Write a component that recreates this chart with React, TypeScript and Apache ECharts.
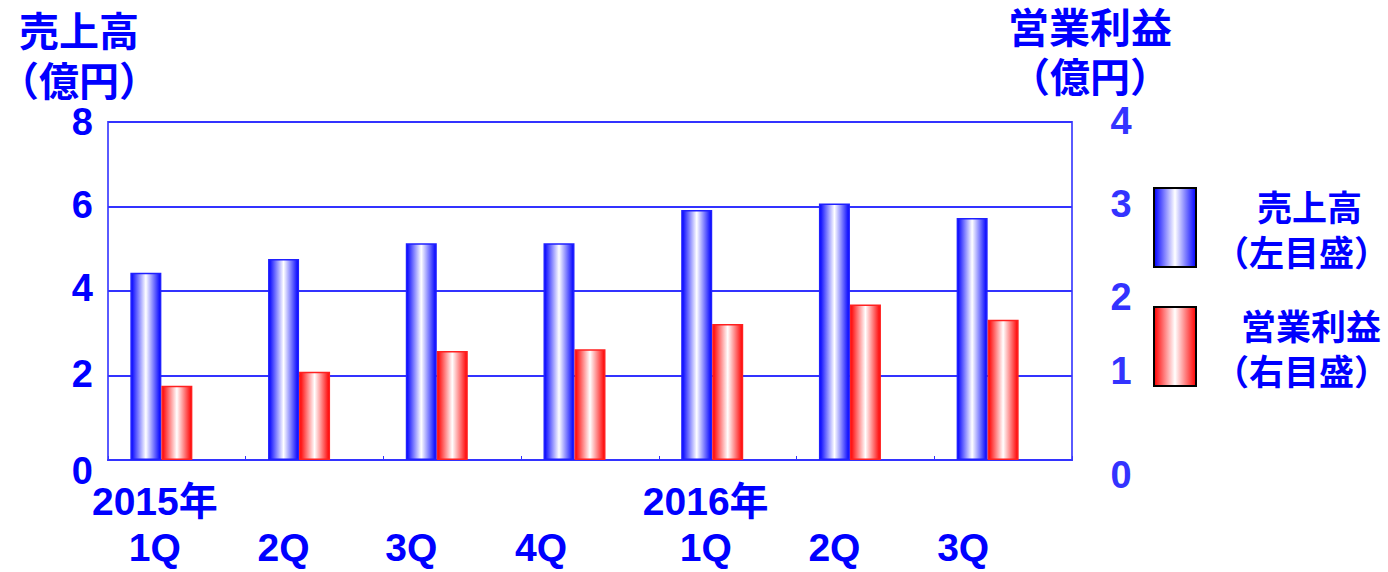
import React, { useEffect, useRef } from "react";
import * as echarts from "echarts";

const years = ["2015年", "", "", "", "2016年", "", ""];
const quarters = ["1Q", "2Q", "3Q", "4Q", "1Q", "2Q", "3Q"];
const sales = [4.43, 4.76, 5.13, 5.13, 5.92, 6.07, 5.73];
const profit = [0.88, 1.045, 1.29, 1.31, 1.61, 1.84, 1.66];
const leftTicks = [0, 2, 4, 6, 8];
const rightTicks = [0, 1, 2, 3, 4];
const salesName = "売上高";
const profitName = "営業利益";
const salesLegend = "（左目盛）";
const profitLegend = "（右目盛）";
const unitLabel = "（億円）";

// label position tweaks (px)
const xLabelShift = [-22, -31, -41, -49, -22, -31, -40];
const leftLabelShift: Record<number, number> = { 0: 11, 2: -2, 4: -3, 6: -2, 8: 0 };
const rightLabelShift: Record<number, number> = { 0: 15, 1: -5, 2: 6, 3: -3, 4: -1 };

const FONT = '"Noto Sans CJK JP", "Noto Sans", sans-serif';
const NUMFONT = '"Liberation Sans", "Noto Sans CJK JP", sans-serif';
const BLUE = "#0000ff";

function vShiftPadding(d: number) {
  return d >= 0 ? [2 * d, 0, 0, 0] : [0, 0, -2 * d, 0];
}

export default function App() {
  const ref = useRef<HTMLDivElement>(null);
  useEffect(() => {
    document.body.style.margin = "0";
    const chart = echarts.init(ref.current!, undefined, { renderer: "svg" });

    const blueGrad = new echarts.graphic.LinearGradient(0, 0, 1, 0, [
      { offset: 0, color: "#0000ff" },
      { offset: 0.5, color: "#ffffff" },
      { offset: 1, color: "#0000ff" },
    ]);
    const redGrad = new echarts.graphic.LinearGradient(0, 0, 1, 0, [
      { offset: 0, color: "#ff0000" },
      { offset: 0.5, color: "#ffffff" },
      { offset: 1, color: "#ff0000" },
    ]);

    const xRich: Record<string, any> = {};
    xLabelShift.forEach((d, i) => {
      xRich["s" + i] = {
        fontFamily: NUMFONT,
        fontWeight: "bold",
        fontSize: 39,
        lineHeight: 46,
        color: BLUE,
        padding: [0, -2 * d, 0, 0],
      };
    });
    const leftRich: Record<string, any> = {};
    leftTicks.forEach((v) => {
      leftRich["v" + v] = {
        fontFamily: NUMFONT,
        fontWeight: "bold",
        fontSize: 38,
        color: BLUE,
        padding: vShiftPadding(leftLabelShift[v] || 0),
      };
    });
    const rightRich: Record<string, any> = {};
    rightTicks.forEach((v) => {
      rightRich["v" + v] = {
        fontFamily: NUMFONT,
        fontWeight: "bold",
        fontSize: 38,
        color: "#3333ff",
        padding: vShiftPadding(rightLabelShift[v] || 0),
      };
    });

    const legendTok = (pad: number) => ({
      fontFamily: FONT,
      fontWeight: "bold",
      fontSize: 35,
      lineHeight: 45,
      color: BLUE,
      padding: [0, 0, 0, pad],
    });
    const legendRich = {
      a: legendTok(56),
      b: legendTok(40),
      c: legendTok(13),
    };

    const titleTok = (size: number) => ({
      fontFamily: FONT,
      fontWeight: "bold",
      fontSize: size,
      lineHeight: 50,
      fill: BLUE,
    });

    chart.setOption({
      animation: false,
      grid: {
        left: 108,
        right: 316,
        top: 122,
        bottom: 112,
        show: true,
        borderColor: "#5a5aff",
        borderWidth: 2,
      },
      legend: {
        data: [salesName, profitName],
        orient: "vertical",
        left: 1153,
        top: 187,
        padding: 0,
        itemWidth: 42,
        itemHeight: 79,
        itemGap: 38,
        icon: "rect",
        itemStyle: { borderColor: "#000000", borderWidth: 2 },
        formatter: (name: string) =>
          name === salesName
            ? `{a|${salesName}}\n{c|${salesLegend}}`
            : `{b|${profitName}}\n{c|${profitLegend}}`,
        textStyle: { rich: legendRich },
        selectedMode: false,
      },
      xAxis: {
        type: "category",
        data: quarters,
        axisLine: { show: true, lineStyle: { color: "#3333ff", width: 2 } },
        axisTick: {
          show: true,
          inside: true,
          length: 4,
          lineStyle: { color: "#3333ff", width: 1 },
        },
        axisLabel: {
          margin: 18,
          interval: 0,
          formatter: (q: string, i: number) =>
            `{s${i}|${years[i] || " "}}\n{s${i}|${q}}`,
          rich: xRich,
        },
      },
      yAxis: [
        {
          type: "value",
          min: 0,
          max: 8,
          interval: 2,
          axisLine: { show: false },
          axisTick: { show: false },
          splitLine: { show: true, lineStyle: { color: "#3333ff", width: 2 } },
          axisLabel: {
            margin: 15,
            formatter: (v: number) => `{v${v}|${v}}`,
            rich: leftRich,
          },
        },
        {
          type: "value",
          min: 0,
          max: 4,
          interval: 1,
          axisLine: { show: false },
          axisTick: { show: false },
          splitLine: { show: false },
          axisLabel: {
            margin: 49,
            align: "center",
            formatter: (v: number) => `{v${v}|${v}}`,
            rich: rightRich,
          },
        },
      ],
      series: [
        {
          name: salesName,
          type: "bar",
          yAxisIndex: 0,
          data: sales,
          barWidth: 31,
          barGap: "0%",
          itemStyle: { color: blueGrad, borderColor: "#2020ff", borderWidth: 1.5 },
        },
        {
          name: profitName,
          type: "bar",
          yAxisIndex: 1,
          data: profit,
          barWidth: 31,
          barGap: "0%",
          itemStyle: { color: redGrad, borderColor: "#ff2020", borderWidth: 1.5 },
        },
        {
          name: "spacer",
          type: "bar",
          yAxisIndex: 0,
          data: quarters.map(() => "-"),
          barWidth: 31,
          barGap: "0%",
        },
      ],
      graphic: [
        {
          type: "text",
          x: 79,
          y: 4,
          style: {
            text: `{a|${salesName}}\n{a|${unitLabel}}`,
            rich: { a: titleTok(40) },
            fill: BLUE,
            align: "center",
            verticalAlign: "top",
          },
        },
        {
          type: "text",
          x: 1090,
          y: 0,
          style: {
            text: `{a|${profitName}}\n{b|${unitLabel}}`,
            rich: { a: titleTok(41), b: titleTok(40) },
            fill: BLUE,
            align: "center",
            verticalAlign: "top",
          },
        },
      ],
    });
    return () => chart.dispose();
  }, []);
  return <div ref={ref} style={{ width: 1388, height: 572 }} />;
}
